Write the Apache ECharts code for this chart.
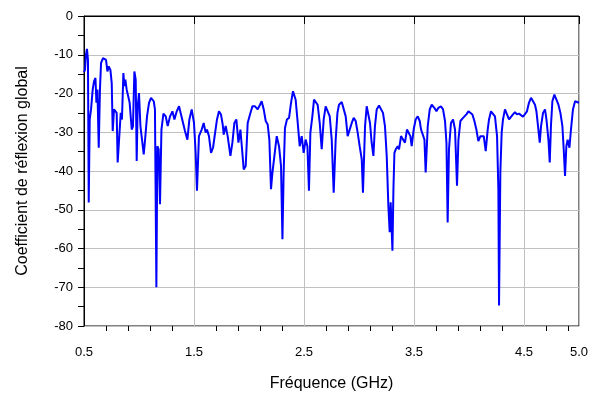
<!DOCTYPE html>
<html>
<head>
<meta charset="utf-8">
<script src="https://cdn.jsdelivr.net/npm/echarts@6/dist/echarts.min.js"></script>
<style>html,body{margin:0;padding:0;background:#fff}#c{width:595px;height:394px}</style>
</head>
<body>
<div id="c"></div>
<script>
// Frequency (GHz)
const freq = [0.500,0.509,0.518,0.527,0.536,0.543,0.552,0.564,0.579,0.591,0.604,0.613,0.622,0.634,0.645,0.655,0.673,0.685,0.700,0.713,0.725,0.740,0.752,0.761,0.773,0.785,0.797,0.806,0.822,0.834,0.845,0.858,0.867,0.876,0.888,0.904,0.915,0.934,0.945,0.958,0.970,0.979,0.988,1.000,1.013,1.025,1.043,1.055,1.073,1.091,1.109,1.127,1.134,1.145,1.158,1.167,1.179,1.191,1.204,1.222,1.243,1.261,1.282,1.304,1.322,1.343,1.364,1.382,1.404,1.418,1.440,1.458,1.479,1.500,1.515,1.527,1.545,1.570,1.588,1.606,1.618,1.636,1.655,1.673,1.691,1.709,1.727,1.745,1.761,1.770,1.788,1.806,1.831,1.849,1.867,1.885,1.904,1.922,1.934,1.952,1.970,1.988,2.009,2.031,2.055,2.079,2.100,2.115,2.134,2.152,2.170,2.185,2.200,2.213,2.231,2.252,2.273,2.291,2.304,2.315,2.327,2.345,2.364,2.382,2.400,2.424,2.443,2.461,2.479,2.497,2.515,2.531,2.545,2.558,2.576,2.591,2.606,2.624,2.643,2.661,2.679,2.697,2.715,2.734,2.752,2.770,2.788,2.804,2.818,2.843,2.861,2.879,2.897,2.915,2.934,2.952,2.970,2.988,3.006,3.025,3.036,3.055,3.070,3.085,3.100,3.115,3.131,3.145,3.161,3.182,3.200,3.218,3.236,3.252,3.267,3.279,3.288,3.304,3.313,3.322,3.334,3.352,3.364,3.382,3.400,3.418,3.436,3.445,3.467,3.479,3.497,3.515,3.534,3.552,3.564,3.582,3.595,3.606,3.625,3.643,3.661,3.685,3.704,3.722,3.745,3.764,3.782,3.795,3.806,3.818,3.836,3.855,3.873,3.891,3.904,3.922,3.940,3.958,3.976,3.995,4.013,4.031,4.049,4.067,4.085,4.104,4.122,4.134,4.152,4.170,4.182,4.200,4.218,4.236,4.255,4.267,4.273,4.285,4.297,4.309,4.327,4.345,4.364,4.382,4.400,4.418,4.436,4.455,4.473,4.491,4.509,4.527,4.545,4.564,4.582,4.600,4.613,4.631,4.643,4.655,4.673,4.691,4.704,4.722,4.734,4.745,4.758,4.776,4.794,4.813,4.831,4.849,4.861,4.873,4.885,4.897,4.913,4.927,4.945,4.964,4.982,5.000];
// Global reflection coefficient (dB)
const reflexion = [-14.5,-13.9,-10.0,-8.5,-11.3,-48.1,-26.7,-24.1,-19.0,-16.9,-16.0,-22.4,-19.0,-34.0,-19.0,-12.1,-10.9,-10.4,-11.3,-14.3,-13.0,-13.9,-17.3,-29.7,-24.1,-24.1,-25.0,-37.8,-37.8,-25.0,-26.7,-14.7,-18.1,-16.4,-19.0,-19.5,-22.4,-29.3,-28.5,-14.3,-16.4,-37.4,-23.3,-19.9,-28.4,-28.0,-35.7,-32.0,-25.9,-22.4,-21.1,-21.5,-22.0,-24.1,-70.0,-33.6,-34.4,-48.6,-29.3,-25.2,-25.9,-28.4,-25.9,-24.6,-26.7,-24.6,-23.3,-25.4,-28.0,-29.7,-31.9,-26.7,-24.1,-27.6,-35.3,-45.1,-31.0,-29.3,-27.6,-30.1,-29.3,-31.0,-35.3,-34.0,-33.6,-26.7,-24.6,-25.4,-28.0,-30.6,-28.4,-31.0,-36.1,-32.7,-27.6,-26.7,-32.7,-29.3,-28.9,-39.6,-38.7,-27.6,-25.4,-23.3,-23.3,-24.1,-22.9,-22.0,-24.1,-27.1,-28.0,-31.9,-44.7,-40.4,-36.1,-31.0,-33.6,-38.7,-57.6,-40.4,-28.9,-26.7,-26.3,-22.4,-19.4,-21.6,-27.6,-33.6,-31.0,-35.3,-31.9,-33.6,-45.1,-30.1,-25.9,-21.6,-21.6,-22.9,-27.6,-34.4,-26.7,-23.3,-23.3,-25.9,-31.9,-45.6,-31.9,-25.0,-22.9,-22.2,-22.4,-25.9,-31.0,-31.0,-27.6,-26.3,-27.1,-30.1,-33.6,-37.0,-45.6,-28.4,-23.3,-22.9,-27.6,-32.7,-36.1,-28.4,-24.1,-23.1,-23.3,-25.0,-28.4,-36.1,-49.0,-55.8,-48.1,-60.6,-44.7,-35.3,-34.4,-33.6,-34.4,-31.0,-30.6,-32.7,-29.3,-28.9,-31.0,-33.6,-29.3,-26.7,-25.9,-27.1,-29.3,-29.7,-31.9,-40.4,-28.4,-24.1,-22.9,-23.7,-24.6,-23.7,-23.3,-24.1,-27.1,-32.7,-53.3,-34.4,-27.6,-26.7,-29.3,-43.8,-31.9,-27.1,-26.5,-26.3,-25.4,-24.6,-24.8,-25.4,-27.1,-29.3,-32.3,-31.0,-31.5,-31.0,-34.9,-29.3,-26.7,-24.6,-24.3,-25.9,-31.0,-44.7,-74.7,-40.4,-30.1,-26.7,-24.1,-24.6,-26.7,-26.3,-25.4,-24.8,-25.4,-25.2,-25.2,-26.0,-26.5,-24.6,-22.4,-21.1,-20.9,-22.9,-24.6,-29.3,-32.7,-28.4,-25.0,-24.1,-26.7,-31.9,-37.8,-28.4,-22.0,-20.3,-20.7,-22.9,-25.0,-28.4,-34.4,-41.3,-33.6,-31.9,-34.0,-29.3,-24.1,-22.0,-21.6,-22.4];
const xLabels = [0.5, 1.5, 2.5, 3.5, 4.5, 5.0];
const xMinorTicks = [0.7,0.9,1.1,1.3,1.7,1.9,2.1,2.3,2.7,2.9,3.1,3.3,3.7,3.9,4.1,4.3,4.7,4.9];
const xGrid = [1.5, 2.5, 3.5, 4.5];

const chart = echarts.init(document.getElementById('c'), null, {renderer: 'canvas'});
const font = 'Liberation Sans, Arial, sans-serif';
chart.setOption({
  animation: false,
  backgroundColor: '#fff',
  grid: {left: 84, right: 16, top: 16, bottom: 68, outerBoundsMode: 'none', containLabel: false,
         show: true, borderColor: '#000', borderWidth: 1, backgroundColor: 'transparent'},
  xAxis: [{
    type: 'value', min: 0.5, max: 5.0,
    name: 'Fréquence (GHz)', nameLocation: 'middle', nameGap: 50,
    nameTextStyle: {fontFamily: font, fontSize: 16, color: '#000'},
    axisLine: {show: true, lineStyle: {color: '#000', width: 1}},
    axisTick: {show: true, customValues: xLabels, length: 8, lineStyle: {color: '#000'}},
    axisLabel: {customValues: xLabels, formatter: v => v.toFixed(1), fontFamily: font, fontSize: 13, color: '#000', margin: 20},
    splitLine: {show: true, customValues: xGrid, lineStyle: {color: '#c0c0c0', width: 1}}
  }, {
    type: 'value', min: 0.5, max: 5.0, position: 'bottom',
    axisLine: {show: false},
    axisTick: {show: true, customValues: xMinorTicks, length: 5, lineStyle: {color: '#000'}},
    axisLabel: {show: false},
    splitLine: {show: false}
  }],
  yAxis: {
    type: 'value', min: -80, max: 0, interval: 10,
    name: 'Coefficient de réflexion global', nameLocation: 'middle', nameGap: 53,
    nameTextStyle: {fontFamily: font, fontSize: 16, color: '#000'},
    axisLine: {show: true, lineStyle: {color: '#000', width: 1}},
    axisTick: {show: true, length: 6, lineStyle: {color: '#000'}},
    minorTick: {show: true, splitNumber: 2, length: 6, lineStyle: {color: '#000'}},
    axisLabel: {fontFamily: font, fontSize: 13, color: '#000', margin: 11},
    splitLine: {show: true, lineStyle: {color: '#c0c0c0', width: 1}}
  },
  series: [{
    type: 'line', xAxisIndex: 0,
    data: freq.map((f, i) => [f, reflexion[i]]),
    showSymbol: false, symbol: 'none',
    lineStyle: {color: '#0000ff', width: 2},
    clip: true
  }]
});
</script>
</body>
</html>
